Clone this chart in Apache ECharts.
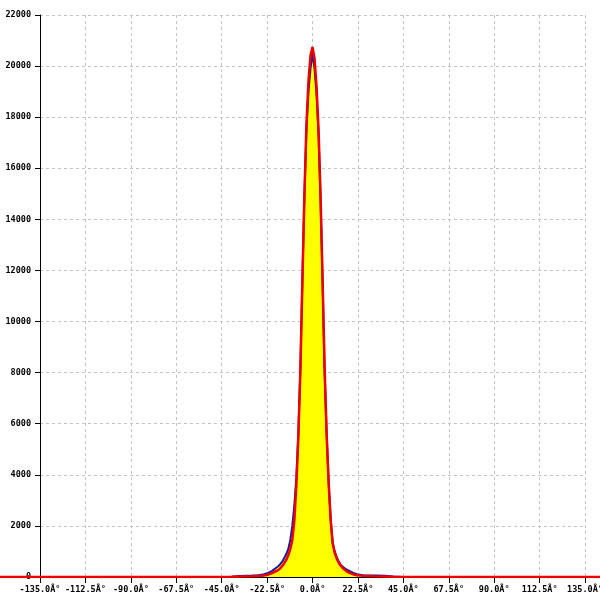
<!DOCTYPE html>
<html>
<head>
<meta charset="utf-8">
<script src="https://cdn.jsdelivr.net/npm/echarts@6/dist/echarts.min.js"></script>
<style>html,body{margin:0;padding:0;background:#fff}#c{width:600px;height:600px}</style>
</head>
<body>
<div id="c"></div>
<script>
// measured histogram (blue, yellow filled)
const dataAngles = [-45,-40,-36,-33,-30,-28,-26,-24,-22,-21,-20,-19,-18,-17,-16,-15,-14,-13,-12,-11,-10,-9,-8,-7,-6,-5,-4,-3,-2,-1,0,1,2,3,4,5,6,7,8,9,10,11,12,13,14,15,16,17,18,19,20,22,25,28,32,36,40,45];
const dataValues = [0,10,40,50,55,60,75,110,160,200,240,300,360,420,500,600,740,900,1100,1450,2000,2800,3900,5700,8200,11700,14900,17500,19000,19900,20500,19900,18900,17300,14700,11500,8000,5600,3700,2300,1350,1000,780,600,480,400,340,290,250,210,170,110,70,55,55,45,20,0];
// fitted curve (red)
const fitAngles = [-155,-60,-40,-30,-25,-22,-20,-19,-18,-17,-16,-15,-14,-13,-12,-11,-10,-9,-8,-7,-6,-5,-4,-3,-2,-1,0,1,2,3,4,5,6,7,8,9,10,11,12,13,14,15,16,17,18,20,22,25,30,40,60,145];
const fitValues = [0,0,10,25,50,90,150,190,230,270,340,430,540,670,850,1100,1450,2200,3600,5500,8100,11600,15000,17700,19400,20400,20750,20300,19200,17500,14900,11600,8200,5600,3700,2200,1300,950,720,560,440,350,280,220,170,110,70,45,25,10,0,0];
const xTickLabels = ['-135.0Â°','-112.5Â°','-90.0Â°','-67.5Â°','-45.0Â°','-22.5Â°','0.0Â°','22.5Â°','45.0Â°','67.5Â°','90.0Â°','112.5Â°','135.0Â°'];
const yTickLabels = ['0','2000','4000','6000','8000','10000','12000','14000','16000','18000','20000','22000'];

const pair = (a, b) => a.map((x, i) => [x, b[i]]);
const W = 600, L = 40, R = 15;
const xMin = -135, xMax = 135;
const degPerPx = (xMax - xMin) / (W - L - R);
const font = {fontFamily: 'DejaVu Sans Mono', fontSize: 8.5, fontWeight: 'bold', color: '#000'};
const chart = echarts.init(document.getElementById('c'), null, {renderer: 'canvas'});
chart.setOption({
  animation: false,
  backgroundColor: '#fff',
  grid: [
    {left: L, right: R, top: 15, bottom: 23, containLabel: false, outerBoundsMode: 'none'},
    {left: 0, right: 0, top: 15, bottom: 23, containLabel: false, outerBoundsMode: 'none'}
  ],
  xAxis: [{
    type: 'value', min: xMin, max: xMax, interval: 22.5, gridIndex: 0,
    axisLine: {show: true, onZero: false, lineStyle: {color: '#000', width: 1}},
    axisTick: {show: true, length: 6, lineStyle: {color: '#000'}},
    axisLabel: Object.assign({margin: 8, formatter: (v) => xTickLabels[Math.round((v - xMin) / 22.5)]}, font),
    splitLine: {show: true, lineStyle: {color: '#c4c4c4', type: [3, 3], width: 1}}
  }, {
    type: 'value', gridIndex: 1, min: xMin - L * degPerPx, max: xMax + R * degPerPx, show: false
  }],
  yAxis: [{
    type: 'value', min: 0, max: 22000, interval: 2000, gridIndex: 0,
    axisLine: {show: true, onZero: false, lineStyle: {color: '#000', width: 1}},
    axisTick: {show: true, length: 5, lineStyle: {color: '#000'}},
    axisLabel: Object.assign({margin: 9, formatter: (v) => yTickLabels[Math.round(v / 2000)]}, font),
    splitLine: {show: true, lineStyle: {color: '#c4c4c4', type: [3, 3], width: 1}}
  }, {
    type: 'value', gridIndex: 1, min: 0, max: 22000, show: false
  }],
  series: [
    {type: 'line', xAxisIndex: 0, yAxisIndex: 0, data: pair(dataAngles, dataValues), showSymbol: false, symbol: 'none',
     lineStyle: {color: '#1a1aa6', width: 2}, areaStyle: {color: '#ffff00', opacity: 1}, z: 2},
    {type: 'line', xAxisIndex: 1, yAxisIndex: 1, data: pair(fitAngles, fitValues), showSymbol: false, symbol: 'none',
     lineStyle: {color: '#ee0000', width: 2.5}, z: 3}
  ]
});
</script>
</body>
</html>
